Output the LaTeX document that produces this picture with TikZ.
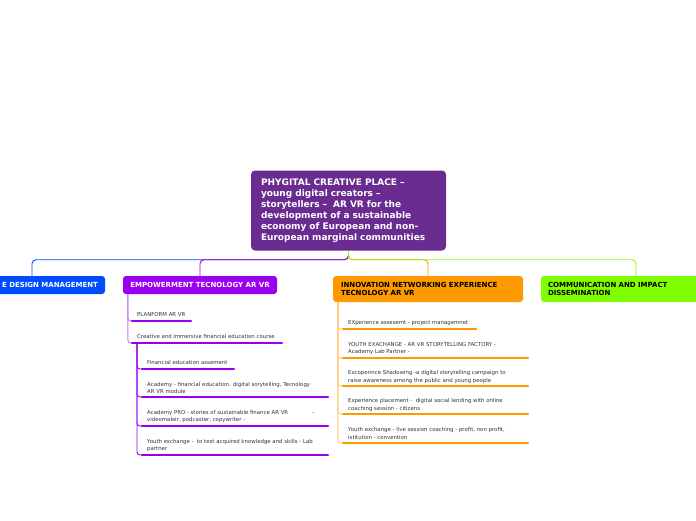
\documentclass[tikz,border=0pt]{standalone}
\usepackage{fontspec}
\setmainfont{DejaVu Sans}
\begin{document}
\begin{tikzpicture}[x=1pt,y=-1pt,
  every node/.style={font=\fontsize{5.4}{7.2}\selectfont},
  title/.style={fill=cpurple,rounded corners=4pt,text=white,align=left,
    text width=175pt,inner xsep=10pt,minimum height=80pt,
    font=\bfseries\fontsize{9}{11}\selectfont},
  branch/.style={rounded corners=3pt,inner xsep=7pt,inner ysep=0pt,
    font=\bfseries\fontsize{7}{8}\selectfont},
  leaf/.style={anchor=north west,inner sep=0pt,align=left,text=leafgray},
  conn/.style={line width=0.9pt,rounded corners=4pt},
  ptree/.style={draw=ptreec,line width=0.9pt,rounded corners=3pt},
  psub/.style={draw=pbranch,line width=0.9pt,rounded corners=3pt},
  otree/.style={draw=otreec,line width=0.9pt,rounded corners=3pt},
  pul/.style={draw=pbranch,line width=2.2pt,line cap=round},
  oul/.style={draw=obranch,line width=2.2pt,line cap=round}]
\definecolor{cpurple}{HTML}{6A2C91}
\definecolor{bbranch}{HTML}{004CFF}
\definecolor{pbranch}{HTML}{9A00EE}
\definecolor{obranch}{HTML}{FF9900}
\definecolor{gbranch}{HTML}{80FF00}
\definecolor{ptreec}{HTML}{C47EF2}
\definecolor{otreec}{HTML}{FFC978}
\definecolor{leafgray}{HTML}{333333}
\useasboundingbox (0,0) rectangle (696,520);
\clip (0,0) rectangle (696,520);

% central node
\node[title] (ctr) at (348.5,210.5) {PHYGITAL CREATIVE PLACE –\\young digital creators –\\storytellers –\ \ AR VR for the\\development of a sustainable\\economy of European and non-\\European marginal communities};

% branch nodes
\node[branch,fill=bbranch,text=white,minimum width=146pt,minimum height=18pt,text width=132pt,align=right] (bl) at (32,285) {E DESIGN MANAGEMENT};
\node[branch,fill=pbranch,text=white,minimum width=154pt,minimum height=18pt] (pb) at (200,285) {EMPOWERMENT TECNOLOGY AR VR};
\node[branch,fill=obranch,text=black,minimum width=190pt,minimum height=26pt,text width=174pt,inner xsep=8pt,align=left] (ob) at (428,289) {INNOVATION NETWORKING EXPERIENCE\\TECNOLOGY AR VR};
\node[branch,fill=gbranch,text=black,minimum width=190pt,minimum height=26pt,text width=176pt,align=left] (gb) at (636,289) {COMMUNICATION AND IMPACT\\DISSEMINATION};

% main connectors
\draw[conn,bbranch] (ctr.south) -- ++(0,9) -| (bl.north);
\draw[conn,obranch] (ctr.south) -- ++(0,9) -| (ob.north);
\draw[conn,pbranch] (ctr.south) -- ++(0,9) -| (pb.north);
\draw[conn,gbranch] (ctr.south) -- ++(0,9) -| (gb.north);

% purple subtree
\coordinate (proot) at ([xshift=5pt]pb.south west);
\coordinate (p1u) at (132,321); \coordinate (p1v) at (191,321);
\coordinate (p2u) at (132,343); \coordinate (p2v) at (282,343);
\coordinate (p3u) at (142,369); \coordinate (p3v) at (234,369);
\coordinate (p4u) at (142,397); \coordinate (p4v) at (328,397);
\coordinate (p5u) at (142,426); \coordinate (p5v) at (328,426);
\coordinate (p6u) at (142,455); \coordinate (p6v) at (328,455);
\coordinate (psroot) at ([xshift=5pt]p2u);
\draw[ptree] (proot) |- (p1u);
\draw[ptree] (proot) |- (p2u);
\draw[psub] (psroot) |- (p3u);
\draw[psub] (psroot) |- (p4u);
\draw[psub] (psroot) |- (p5u);
\draw[psub] (psroot) |- (p6u);
\foreach \i in {1,...,6} {\draw[pul] (p\i u) -- (p\i v);}

\node[leaf] (p1) at (137,312) {PLANFORM AR VR};
\node[leaf] (p2) at (137,334) {Creative and immersive financial education course};
\node[leaf] (p3) at (147,360) {Financial education assement};
\node[leaf] (p4) at (147,382) {Academy - financial education. digital sorytelling, Tecnology\\AR VR module};
\node[leaf] (p5) at (147,410) {Academy PRO - stories of sustainable finance AR VR\hspace{24pt}-\\videomaker, podcaster, copywriter -};
\node[leaf] (p6) at (147,439) {Youth exchange -\ \ to test acquired knowledge and skills - Lab\\partner};

% orange subtree
\coordinate (oroot) at ([xshift=5pt]ob.south west);
\coordinate (o1u) at (343,329); \coordinate (o1v) at (476,329);
\coordinate (o2u) at (343,358); \coordinate (o2v) at (528,358);
\coordinate (o3u) at (343,386); \coordinate (o3v) at (528,386);
\coordinate (o4u) at (343,414); \coordinate (o4v) at (528,414);
\coordinate (o5u) at (343,443); \coordinate (o5v) at (528,443);
\foreach \i in {1,...,5} {\draw[otree] (oroot) |- (o\i u);}
\foreach \i in {1,...,5} {\draw[oul] (o\i u) -- (o\i v);}

\node[leaf] (o1) at (348,320.5) {EXperience assesemt - project managemnet};
\node[leaf] (o2) at (348,342.5) {YOUTH EXACHANGE - AR VR STORYTELLING FACTORY -\\Academy Lab Partner -};
\node[leaf] (o3) at (348,370.5) {Excoperince Shadowing -a digital storytelling campaign to\\raise awareness among the public and young people};
\node[leaf] (o4) at (348,398.5) {Experience placement -\ \ digital social lending with online\\coaching session - citizens};
\node[leaf] (o5) at (348,427.5) {Youth exchange - live session coaching - profit, non profit,\\istitution - convention};
\end{tikzpicture}
\end{document}
